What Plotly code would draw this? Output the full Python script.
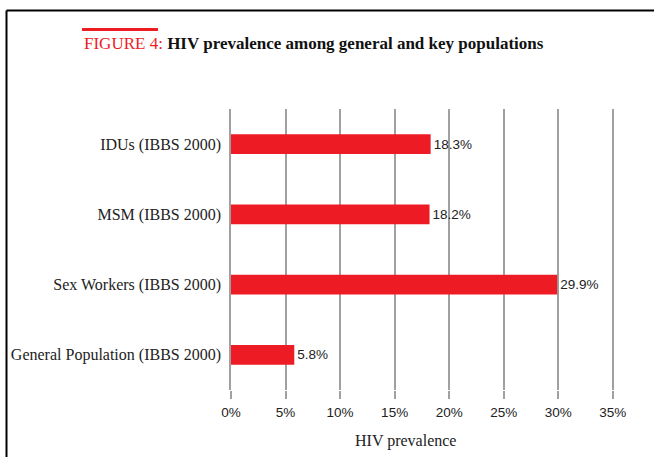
import plotly.graph_objects as go

categories = ["General Population (IBBS 2000)", "Sex Workers (IBBS 2000)",
              "MSM (IBBS 2000)", "IDUs (IBBS 2000)"]
values = [5.8, 29.9, 18.2, 18.3]
tick_vals = [0, 5, 10, 15, 20, 25, 30, 35]
tick_text = ["0%", "5%", "10%", "15%", "20%", "25%", "30%", "35%"]

W, H = 654, 457
ML, MR, MT, MB = 231, 39, 109, 67
PW, PH = W - ML - MR, H - MT - MB

def px_x(p):
    return (p - ML) / PW

def px_y(p):
    return (H - MB - p) / PH

RED = "#ED1C24"
SERIF = "Liberation Serif"
SANS = "Liberation Sans"

fig = go.Figure(go.Bar(
    y=categories, x=values, orientation="h",
    marker=dict(color=RED, line=dict(width=0)),
    width=0.28,
    text=[f"{v:.1f}%" for v in values],
    textposition="outside",
    textfont=dict(family=SANS, size=13.5, color="#222222"),
    cliponaxis=False,
))

fig.update_layout(
    width=W, height=H,
    margin=dict(l=ML, r=MR, t=MT, b=MB, autoexpand=False),
    paper_bgcolor="white", plot_bgcolor="white",
    showlegend=False,
    xaxis=dict(range=[0, 35.2], tickvals=tick_vals, ticktext=tick_text,
               showgrid=True, gridcolor="#a0a0a0", gridwidth=1.5,
               zeroline=False, showline=False, automargin=False,
               tickfont=dict(family=SANS, size=13.5, color="#222222"),
               ticks="outside", ticklen=8, tickcolor="#a0a0a0", tickwidth=1.5,
               ticklabelstandoff=2, fixedrange=True),
    yaxis=dict(showgrid=False, zeroline=False, showline=True, automargin=False,
               linecolor="#a0a0a0", linewidth=1.5,
               tickfont=dict(family=SERIF, size=16, color="#222222"),
               ticks="", ticklabelstandoff=5, fixedrange=True),
    annotations=[
        dict(text=f"<span style='color:{RED}'>FIGURE 4:</span> <b>HIV prevalence among general and key populations</b>",
             x=px_x(82), y=px_y(43), xref="paper", yref="paper",
             xanchor="left", yanchor="middle", showarrow=False,
             font=dict(family=SERIF, size=17, color="#111111")),
        dict(text="HIV prevalence", x=px_x(405), y=px_y(441),
             xref="paper", yref="paper", xanchor="center", yanchor="middle",
             showarrow=False, font=dict(family=SERIF, size=16, color="#222222")),
    ],
    shapes=[
        dict(type="line", xref="paper", yref="paper",
             x0=px_x(6.5), x1=px_x(700), y0=px_y(10.5), y1=px_y(10.5),
             line=dict(color="black", width=2)),
        dict(type="line", xref="paper", yref="paper",
             x0=px_x(6.5), x1=px_x(6.5), y0=px_y(10.5), y1=px_y(500),
             line=dict(color="black", width=2)),
        dict(type="line", xref="paper", yref="paper",
             x0=px_x(82), x1=px_x(158), y0=px_y(29.5), y1=px_y(29.5),
             line=dict(color=RED, width=3)),
    ],
)

fig.write_html("out.html")
